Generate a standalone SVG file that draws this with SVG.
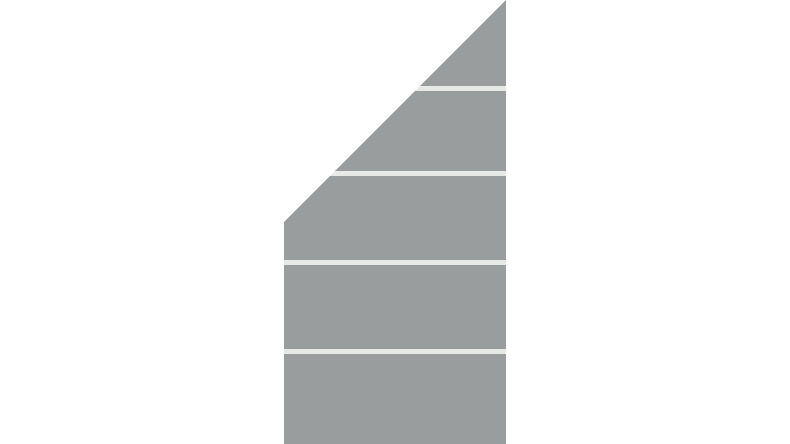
<svg xmlns="http://www.w3.org/2000/svg" width="790" height="444" viewBox="0 0 790 444">
<style>
.gap{fill:#e6e9e6}
.board{fill:#9a9d9d}
</style>
<rect width="790" height="444" fill="#ffffff"/>
<polygon class="gap" points="506,0 284,222 284,444 506,444"/>
<g id="board1"><polygon class="board" points="506,0 420,86 506,86"/></g>
<g id="board2"><polygon class="board" points="415,91 506,91 506,171 335,171"/></g>
<g id="board3"><polygon class="board" points="330,176 506,176 506,260 284,260 284,222"/></g>
<g id="board4"><rect class="board" x="284" y="265" width="222" height="84"/></g>
<g id="board5"><rect class="board" x="284" y="354" width="222" height="90"/></g>
</svg>
